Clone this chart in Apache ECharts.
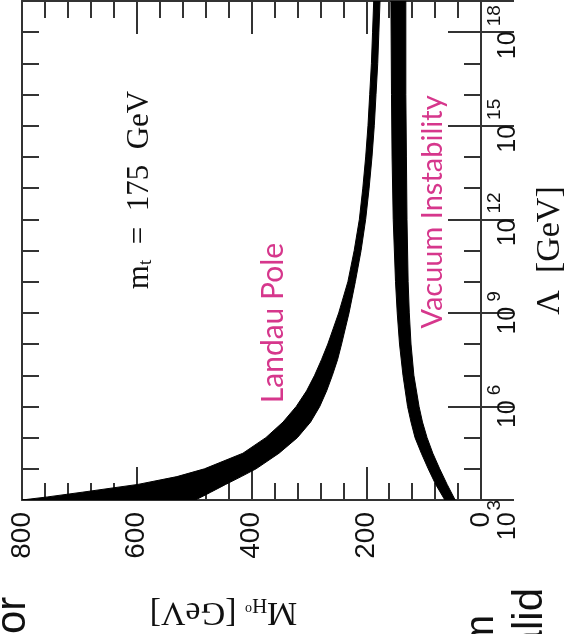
<!DOCTYPE html>
<html>
<head>
<meta charset="utf-8">
<script src="https://cdn.jsdelivr.net/npm/echarts@6/dist/echarts.min.js"></script>
<style>
html, body { margin: 0; padding: 0; background: #fff; }
#main { width: 566px; height: 634px; }
</style>
</head>
<body>
<div id="main"></div>
<script>
var myChart = echarts.init(document.getElementById('main'));

// Λ is kept as log10 exponents (GeV), Higgs mass in GeV
var landauExp  = [3.0, 3.1, 3.25, 3.5, 3.75, 4.0, 4.5, 5.0, 5.5, 6.0, 6.5, 7.0, 7.5, 8.0, 9.0, 10.0, 11.0, 12.0, 13.0, 14.0, 15.0, 16.0, 17.0, 18.0, 19.0];
var landauHigh = [800, 755, 695, 598, 530, 482, 415, 375, 345, 322, 304, 290, 278, 267, 248, 232, 221, 212, 206, 201, 197, 194, 191, 189, 187];
var landauLow  = [498, 487, 471, 445, 418, 392, 352, 320, 297, 281, 269, 259, 250, 243, 230, 219, 209, 201, 195, 190, 186, 183, 180, 178, 176];

var vacuumExp  = [3.0, 3.5, 4.0, 4.5, 5.0, 5.5, 6.0, 7.0, 8.0, 9.0, 10.0, 12.0, 14.0, 16.0, 19.0];
var vacuumLow  = [45, 59, 72, 84, 94, 102, 108, 117, 122, 125, 127, 129, 130, 131, 131];
var vacuumHigh = [63, 79, 92, 104, 115, 122, 128, 136, 142, 146, 149, 153, 155, 156, 157];

var pink = '#d6378c';
var frame = '#333';

function band(exps, hi, lo) {
    var pts = [];
    exps.forEach(function (e, i) { pts.push([hi[i], Math.pow(10, e)]); });
    for (var i = exps.length - 1; i >= 0; i--) {
        pts.push([lo[i], Math.pow(10, exps[i])]);
    }
    return {
        type: 'custom',
        clip: true,
        silent: true,
        data: [[0, 1e3]],
        renderItem: function (params, api) {
            return {
                type: 'polygon',
                shape: { points: pts.map(function (p) { return api.coord(p); }) },
                style: { fill: '#000', stroke: '#000', lineWidth: 1, lineJoin: 'round' }
            };
        }
    };
}

function massAxis(pos, showLabel) {
    return {
        type: 'value',
        position: pos,
        inverse: true,
        min: 0,
        max: 800,
        interval: 200,
        splitLine: { show: false },
        axisLine: { show: true, lineStyle: { color: frame, width: 2 } },
        axisTick: { inside: true, length: 33, lineStyle: { color: frame, width: 2 } },
        minorTick: { show: true, splitNumber: 5, length: 17, lineStyle: { color: frame, width: 2 } },
        axisLabel: {
            show: showLabel,
            rotate: 90,
            margin: 12,
            fontFamily: 'Liberation Sans',
            fontSize: 28,
            color: '#111'
        }
    };
}

// major ticks every 3 decades, minor axis copy every decade
function lambdaAxis(pos, step, tickLen, showLabel) {
    return {
        type: 'log',
        logBase: 10,
        position: pos,
        min: 1e3,
        max: 1e19,
        interval: step,
        splitLine: { show: false },
        axisLine: { show: true, lineStyle: { color: frame, width: 2 } },
        axisTick: { show: true, interval: 0, inside: true, length: tickLen, lineStyle: { color: frame, width: 2 } },
        axisLabel: {
            show: showLabel,
            rotate: 90,
            margin: 4,
            color: '#111',
            formatter: function (v) {
                var e = Math.round(Math.log(v) / Math.LN10);
                if (e > 18) return '';
                return e === 3 ? '{b|10}{s3|3}' : '{b|10}{s|' + e + '}';
            },
            rich: {
                b: { fontFamily: 'Liberation Sans', fontSize: 25, color: '#111' },
                s: { fontFamily: 'Liberation Sans', fontSize: 19, color: '#111', padding: [0, 0, 28, 5] },
                s3: { fontFamily: 'Liberation Sans', fontSize: 19, color: '#111', padding: [0, 40, 28, 2] }
            }
        }
    };
}

var xBottom = massAxis('bottom', true);
xBottom.name = '{m|M}{h|H}{z|o}{m| [GeV]}';
xBottom.nameLocation = 'middle';
xBottom.nameGap = 94;
xBottom.nameRotate = 180;
xBottom.nameTextStyle = {
    padding: [0, 0, 0, 56],
    rich: {
        m: { fontFamily: 'Liberation Serif', fontSize: 34, color: '#111' },
        h: { fontFamily: 'Liberation Serif', fontSize: 21, color: '#111', padding: [14, 0, 0, 0] },
        z: { fontFamily: 'Liberation Serif', fontSize: 14, color: '#111', padding: [6, 0, 0, 0] }
    }
};

var yRight = lambdaAxis('right', 3, 33, true);
yRight.name = '\u039B  [GeV]';
yRight.nameLocation = 'middle';
yRight.nameGap = 52;
yRight.nameRotate = 90;
yRight.nameTextStyle = { fontFamily: 'Liberation Serif', fontSize: 34, color: '#111' };

var option = {
    backgroundColor: '#fff',
    animation: false,
    grid: { left: 22, right: 85, top: 1, bottom: 134, containLabel: false, outerBoundsMode: 'none' },
    xAxis: [xBottom, massAxis('top', false)],
    yAxis: [
        yRight,
        lambdaAxis('left', 3, 33, false),
        lambdaAxis('right', 1, 17, false),
        lambdaAxis('left', 1, 17, false)
    ],
    series: [
        band(landauExp, landauHigh, landauLow),
        band(vacuumExp, vacuumHigh, vacuumLow)
    ],
    graphic: [
        {
            type: 'text', x: 140, y: 190, rotation: Math.PI / 2,
            style: {
                text: '{m|m}{t|t}{m|  =  175  GeV}',
                align: 'center', verticalAlign: 'middle',
                rich: {
                    m: { fontFamily: 'Liberation Serif', fontSize: 31, fill: '#111' },
                    t: { fontFamily: 'Liberation Serif', fontSize: 19, fill: '#111', padding: [13, 0, 0, 0] }
                }
            }
        },
        {
            type: 'text', x: 273, y: 323, rotation: Math.PI / 2,
            style: { text: 'Landau Pole', font: '30px Lato', fill: pink, align: 'center', verticalAlign: 'middle' }
        },
        {
            type: 'text', x: 433, y: 212, rotation: Math.PI / 2,
            style: { text: 'Vacuum Instability', font: '29px Lato', fill: pink, align: 'center', verticalAlign: 'middle' }
        },
        {
            type: 'text', x: 34, y: 634, rotation: Math.PI / 2,
            style: { text: 'or', font: '42px Liberation Sans', fill: '#111', align: 'left', verticalAlign: 'bottom' }
        },
        {
            type: 'text', x: 502, y: 615, rotation: Math.PI / 2,
            style: { text: 'm', font: '40px Liberation Sans', fill: '#111', align: 'right', verticalAlign: 'bottom' }
        },
        {
            type: 'text', x: 551, y: 588, rotation: Math.PI / 2,
            style: { text: 'alid', font: '42px Liberation Sans', fill: '#111', align: 'right', verticalAlign: 'bottom' }
        }
    ]
};

myChart.setOption(option);
</script>
</body>
</html>
